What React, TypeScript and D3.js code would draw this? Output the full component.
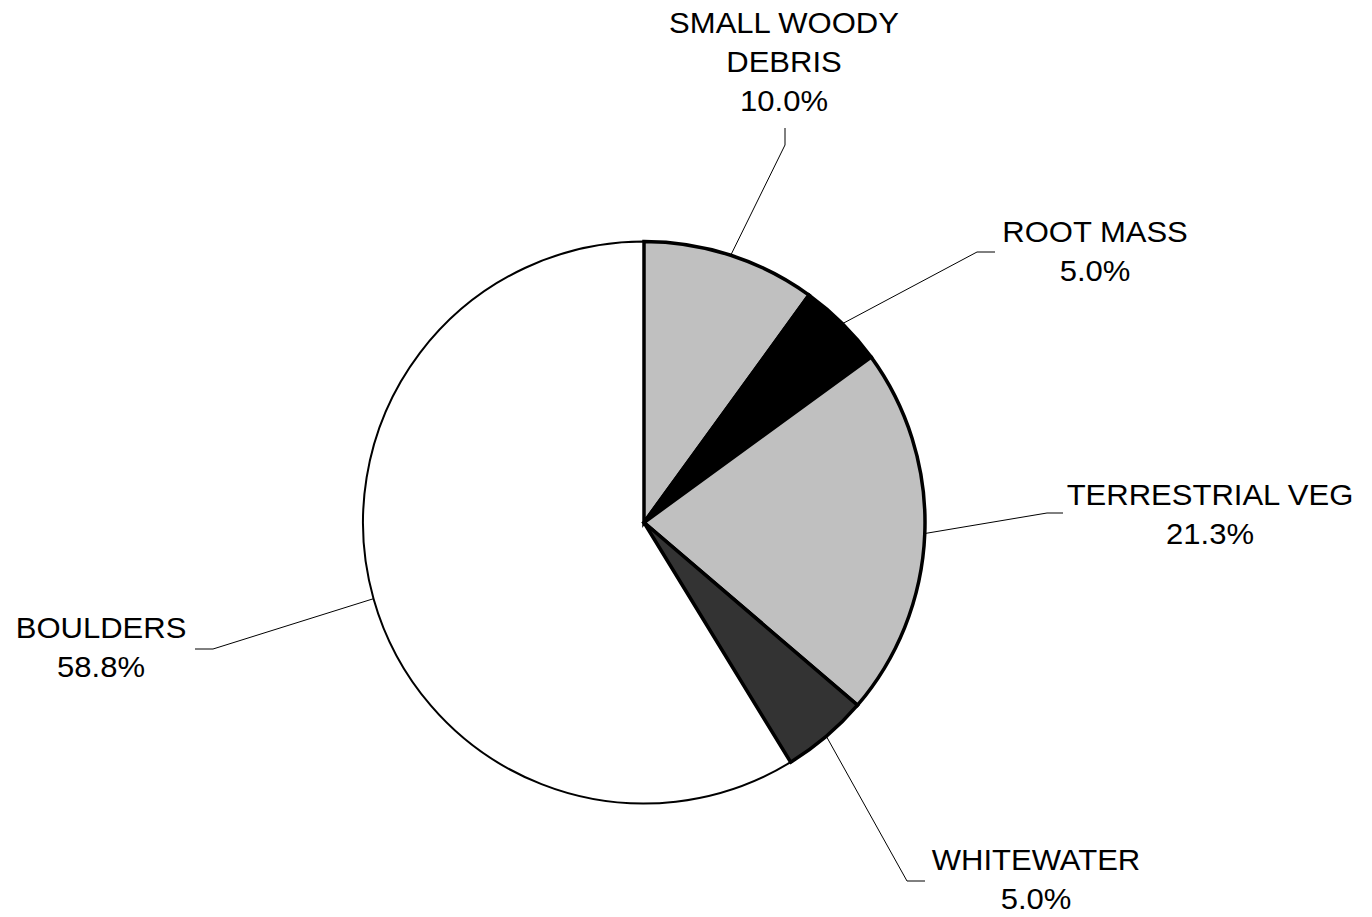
import React from "react";
import * as d3 from "d3";

const categories = ["SMALL WOODY DEBRIS", "ROOT MASS", "TERRESTRIAL VEG", "WHITEWATER", "BOULDERS"];
const values = [10.0, 5.0, 21.3, 5.0, 58.8];
const labelLines = [["SMALL WOODY", "DEBRIS", "10.0%"], ["ROOT MASS", "5.0%"], ["TERRESTRIAL VEG", "21.3%"], ["WHITEWATER", "5.0%"], ["BOULDERS", "58.8%"]];
const fills = ["#C0C0C0", "#000000", "#C0C0C0", "#333333", "#FFFFFF"];

// layout of labels (text center x, first baseline y) and leader elbow points
const labelPos = [[784, 33], [1095, 242], [1210, 505], [1036, 870], [101, 638]];
const elbows = [
  [[785, 145], [785, 128]],
  [[977, 252], [995, 252]],
  [[1047, 513], [1063, 513]],
  [[907, 881], [925, 881]],
  [[213, 649], [195, 649]],
];

export default function App() {
  const W = 1372, H = 917;
  const cx = 644, cy = 522.5, r = 281;
  const data = categories.map((c, i) => ({ c, v: values[i], i }));
  const pie = d3.pie<any>().sort(null).value((d) => d.v).startAngle(0).endAngle(2 * Math.PI);
  const arcs = pie(data);
  const arc = d3.arc<any>().innerRadius(0).outerRadius(r);
  const order = [4, 0, 1, 2, 3];
  return (
    <svg width={W} height={H} style={{ position: "absolute", left: 0, top: 0, background: "#fff" }}>
      <g transform={`translate(${cx},${cy})`}>
        {order.map((i) => (
          <path key={i} d={arc(arcs[i]) || ""} fill={fills[i]} stroke="#000" strokeWidth={i === 4 ? 2 : 3.5} strokeLinejoin="miter" />
        ))}
      </g>
      {arcs.map((a, i) => {
        const mid = (a.startAngle + a.endAngle) / 2;
        const x0 = cx + r * Math.sin(mid);
        const y0 = cy - r * Math.cos(mid);
        const pts = [[x0, y0], ...elbows[i]];
        return (
          <path key={"l" + i} d={d3.line()(pts as any) || ""} fill="none" stroke="#000" strokeWidth={1} />
        );
      })}
      {labelLines.map((lines, i) => (
        <g key={"t" + i} transform={`translate(${labelPos[i][0]},${labelPos[i][1]}) scale(1.07,1)`}>
          {lines.map((t, j) => (
            <text key={j} x={0} y={j * 39} textAnchor="middle" fontFamily="'Liberation Sans', Arial, sans-serif" fontSize={29} fill="#000">
              {t}
            </text>
          ))}
        </g>
      ))}
    </svg>
  );
}
